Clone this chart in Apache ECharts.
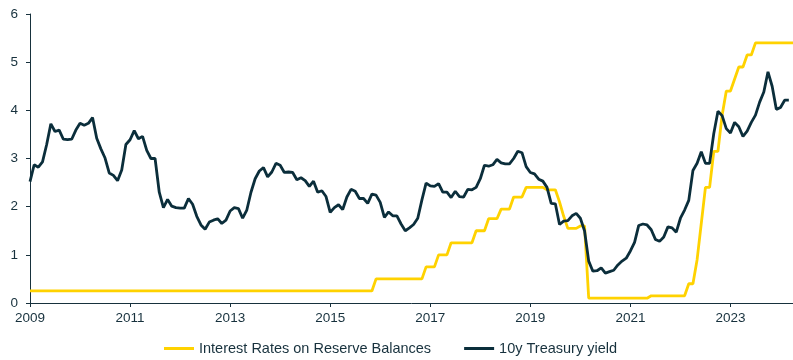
<!DOCTYPE html>
<html><head><meta charset="utf-8">
<script src="https://cdn.jsdelivr.net/npm/echarts@6/dist/echarts.min.js"></script>
<style>html,body{margin:0;padding:0;background:#fff}#c{width:793px;height:360px}</style>
</head><body><div id="c"></div>
<script>
// Monthly observations starting January 2009
const startYear = 2009;

// Interest Rates on Reserve Balances (month-end, %), Jan 2009 - Apr 2024
const iorb = [
  0.25,0.25,0.25,0.25,0.25,0.25,0.25,0.25,0.25,0.25,0.25,0.25, // 2009
  0.25,0.25,0.25,0.25,0.25,0.25,0.25,0.25,0.25,0.25,0.25,0.25, // 2010
  0.25,0.25,0.25,0.25,0.25,0.25,0.25,0.25,0.25,0.25,0.25,0.25, // 2011
  0.25,0.25,0.25,0.25,0.25,0.25,0.25,0.25,0.25,0.25,0.25,0.25, // 2012
  0.25,0.25,0.25,0.25,0.25,0.25,0.25,0.25,0.25,0.25,0.25,0.25, // 2013
  0.25,0.25,0.25,0.25,0.25,0.25,0.25,0.25,0.25,0.25,0.25,0.25, // 2014
  0.25,0.25,0.25,0.25,0.25,0.25,0.25,0.25,0.25,0.25,0.25,0.50, // 2015
  0.50,0.50,0.50,0.50,0.50,0.50,0.50,0.50,0.50,0.50,0.50,0.75, // 2016
  0.75,0.75,1.00,1.00,1.00,1.25,1.25,1.25,1.25,1.25,1.25,1.50, // 2017
  1.50,1.50,1.75,1.75,1.75,1.95,1.95,1.95,2.20,2.20,2.20,2.40, // 2018
  2.40,2.40,2.40,2.40,2.35,2.35,2.35,2.10,1.80,1.55,1.55,1.55, // 2019
  1.60,1.60,0.10,0.10,0.10,0.10,0.10,0.10,0.10,0.10,0.10,0.10, // 2020
  0.10,0.10,0.10,0.10,0.10,0.15,0.15,0.15,0.15,0.15,0.15,0.15, // 2021
  0.15,0.15,0.40,0.40,0.90,1.65,2.40,2.40,3.15,3.15,3.90,4.40, // 2022
  4.40,4.65,4.90,4.90,5.15,5.15,5.40,5.40,5.40,5.40,5.40,5.40, // 2023
  5.40,5.40,5.40,5.40                                          // 2024
];

// 10y Treasury yield (monthly, %), Jan 2009 - Mar 2024
const treasury10y = [
  2.52,2.87,2.82,2.93,3.29,3.72,3.56,3.59,3.40,3.39,3.40,3.59, // 2009
  3.73,3.69,3.73,3.85,3.42,3.20,3.01,2.70,2.65,2.54,2.76,3.29, // 2010
  3.39,3.58,3.41,3.46,3.17,3.00,3.00,2.30,1.98,2.15,2.01,1.98, // 2011
  1.97,1.97,2.17,2.05,1.80,1.62,1.53,1.68,1.72,1.75,1.65,1.72, // 2012
  1.91,1.98,1.96,1.76,1.93,2.30,2.58,2.74,2.81,2.62,2.72,2.90, // 2013
  2.86,2.71,2.72,2.71,2.56,2.60,2.54,2.42,2.53,2.30,2.33,2.21, // 2014
  1.88,1.98,2.04,1.94,2.20,2.36,2.32,2.17,2.17,2.07,2.26,2.24, // 2015
  2.09,1.78,1.89,1.81,1.81,1.64,1.50,1.56,1.63,1.76,2.14,2.49, // 2016
  2.43,2.42,2.48,2.30,2.30,2.19,2.32,2.21,2.20,2.36,2.35,2.40, // 2017
  2.58,2.86,2.84,2.87,2.98,2.91,2.89,2.89,3.00,3.15,3.12,2.83, // 2018
  2.71,2.68,2.57,2.53,2.40,2.07,2.06,1.63,1.70,1.71,1.81,1.86, // 2019
  1.76,1.50,0.87,0.66,0.67,0.73,0.62,0.65,0.68,0.79,0.87,0.93, // 2020
  1.08,1.26,1.61,1.64,1.62,1.52,1.32,1.28,1.37,1.58,1.56,1.47, // 2021
  1.76,1.93,2.13,2.75,2.90,3.14,2.90,2.90,3.52,3.98,3.89,3.62, // 2022
  3.53,3.75,3.66,3.46,3.57,3.75,3.90,4.17,4.38,4.80,4.50,4.02, // 2023
  4.06,4.21,4.21                                               // 2024
];

const xTickLabels = [2009, 2011, 2013, 2015, 2017, 2019, 2021, 2023];
const yTickLabels = [0, 1, 2, 3, 4, 5, 6];
const seriesNames = ['Interest Rates on Reserve Balances', '10y Treasury yield'];

const INK = '#17313d';
const YELLOW = '#ffd200';
const NAVY = '#0b2e3b';
const FONT = '"Liberation Sans", Arial, Helvetica, sans-serif';

function toPairs(vals) {
  return vals.map(function (v, i) { return [startYear + i / 12, v]; });
}

const chart = echarts.init(document.getElementById('c'), null, { renderer: 'canvas' });
chart.setOption({
  animation: false,
  backgroundColor: '#ffffff',
  textStyle: { fontFamily: FONT },
  grid: { left: 30, right: 0, top: 14, bottom: 57 },
  legend: {
    top: 336, left: 159,
    icon: 'rect', itemWidth: 30, itemHeight: 3, itemGap: 33,
    textStyle: { color: INK, fontSize: 14.5, fontFamily: FONT },
    data: seriesNames
  },
  xAxis: {
    type: 'value', min: 2009, max: 2024.25,
    axisLine: { show: true, lineStyle: { color: INK, width: 1 } },
    axisTick: { show: true, length: 4, lineStyle: { color: INK }, customValues: xTickLabels },
    axisLabel: { color: INK, fontSize: 13.5, margin: 8, fontFamily: FONT, customValues: xTickLabels,
      formatter: function (v) { return String(Math.round(v)); } },
    splitLine: { show: false }
  },
  yAxis: {
    type: 'value', min: 0, max: 6, interval: 1,
    axisLine: { show: true, lineStyle: { color: INK, width: 1 } },
    axisTick: { show: true, length: 4, lineStyle: { color: INK } },
    axisLabel: { color: INK, fontSize: 13.5, margin: 12, fontFamily: FONT,
      formatter: function (v) { return yTickLabels.indexOf(v) >= 0 ? String(v) : ''; } },
    splitLine: { show: false }
  },
  series: [
    {
      name: seriesNames[0], type: 'line', data: toPairs(iorb),
      showSymbol: false, symbol: 'none',
      itemStyle: { color: YELLOW },
      lineStyle: { color: YELLOW, width: 2.8 }
    },
    {
      name: seriesNames[1], type: 'line', data: toPairs(treasury10y),
      showSymbol: false, symbol: 'none',
      itemStyle: { color: NAVY },
      lineStyle: { color: NAVY, width: 2.8 }
    }
  ]
});
</script>
</body></html>
